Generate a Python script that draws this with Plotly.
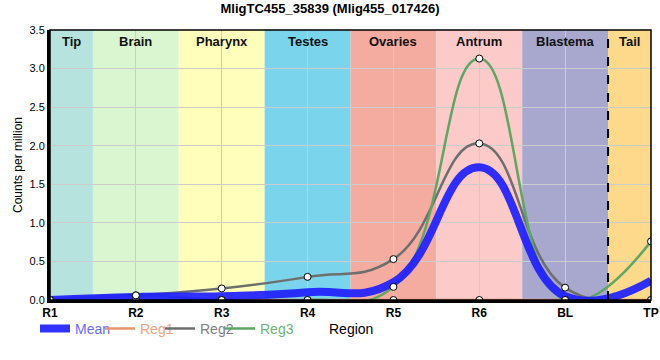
import plotly.graph_objects as go

categories = ["R1", "R2", "R3", "R4", "R5", "R6", "BL", "TP"]
mean = [0.0, 0.04, 0.05, 0.10, 0.23, 1.72, 0.05, 0.25]
reg1 = [0.0, 0.0, 0.0, 0.0, 0.0, 0.0, 0.0, 0.0]
reg2 = [0.0, 0.06, 0.15, 0.30, 0.53, 2.03, 0.16, 0.0]
reg3 = [0.0, 0.06, 0.0, 0.0, 0.17, 3.13, 0.0, 0.76]

regions = ["Tip", "Brain", "Pharynx", "Testes", "Ovaries", "Antrum", "Blastema", "Tail"]
region_bounds = [(0, 0.5), (0.5, 1.5), (1.5, 2.5), (2.5, 3.5), (3.5, 4.5), (4.5, 5.5), (5.5, 6.5), (6.5, 7)]
region_colors = ["#b7e3df", "#daf6d0", "#ffffbb", "#7ad5ec", "#f4aba0", "#fdcaca", "#a8a8ce", "#fdd98c"]

xs = list(range(len(categories)))
SMOOTH = 1.3

fig = go.Figure()

for (x0, x1), col in zip(region_bounds, region_colors):
    fig.add_shape(type="rect", xref="x", yref="paper", x0=x0, x1=x1, y0=0, y1=1,
                  fillcolor=col, line_width=0, layer="below")

for (x0, x1), name in zip(region_bounds, regions):
    fig.add_annotation(x=(x0 + x1) / 2, y=1, xref="x", yref="paper", yanchor="top", yshift=-2,
                       text="<b>%s</b>" % name, showarrow=False,
                       font=dict(size=13, color="#111111"))

series = [
    ("Reg1", reg1, "#e8956a", "#f0a37a", "legend2"),
    ("Reg2", reg2, "#6e6e6e", "#808080", "legend3"),
    ("Reg3", reg3, "#5fa564", "#6fb573", "legend4"),
]

for name, vals, col, tcol, lg in series:
    fig.add_trace(go.Scatter(x=xs, y=vals, mode="lines",
                             line=dict(color=col, width=2.5, shape="spline", smoothing=SMOOTH),
                             name="<span style='color:%s'>%s</span>" % (tcol, name),
                             legend=lg, hoverinfo="skip"))

fig.add_trace(go.Scatter(x=xs, y=mean, mode="lines",
                         line=dict(color="rgba(30,30,255,0.92)", width=8, shape="spline", smoothing=SMOOTH),
                         name="<span style='color:#6a6aff'>Mean</span>", legend="legend"))

for name, vals, col, tcol, lg in series:
    fig.add_trace(go.Scatter(x=xs, y=vals, mode="markers", showlegend=False,
                             marker=dict(size=7, color="white", line=dict(color="black", width=1))))

fig.add_shape(type="line", xref="x", yref="paper", x0=6.5, x1=6.5, y0=0, y1=1,
              line=dict(color="black", width=2, dash="dash"))
fig.add_shape(type="rect", xref="paper", yref="paper", x0=0, x1=1, y0=0, y1=1,
              line=dict(color="black", width=1.5))

fig.add_annotation(x=0.5, xref="paper", y=-0.107, yref="paper", yanchor="middle",
                   text="Region", showarrow=False, font=dict(size=14, color="black"))


def leg(px):
    return dict(orientation="h", x=(px - 50) / 601.0, xanchor="left", y=-0.107, yanchor="middle",
                font=dict(size=14), bgcolor="rgba(0,0,0,0)", borderwidth=0, itemwidth=30)


fig.update_layout(
    width=660, height=360,
    margin=dict(l=50, r=9, t=30, b=60, autoexpand=False),
    paper_bgcolor="white", plot_bgcolor="white",
    font=dict(family="Liberation Sans, Arial, sans-serif", color="black"),
    title=dict(text="<b>MligTC455_35839 (Mlig455_017426)</b>", x=0.5, xanchor="center",
               y=0.988, yanchor="top", font=dict(size=13, color="black")),
    xaxis=dict(range=[0, 7], tickvals=xs, ticktext=["<b>%s</b>" % c for c in categories],
               showgrid=True, gridcolor="#cccccc", gridwidth=1, zeroline=False,
               showline=True, linecolor="black", linewidth=3, ticks="", automargin=False,
               tickfont=dict(size=12, color="black")),
    yaxis=dict(range=[0, 3.5], dtick=0.5, tickformat=".1f",
               showgrid=True, gridcolor="#cccccc", gridwidth=1, zeroline=False,
               showline=True, linecolor="black", linewidth=3, ticks="", automargin=False,
               title=dict(text="Counts per million", font=dict(size=12), standoff=5),
               tickfont=dict(size=11, color="black")),
    legend=leg(35),
    legend2=leg(100),
    legend3=leg(160),
    legend4=leg(220),
    showlegend=True,
)

fig.write_html("out.html", config={"displayModeBar": False},
               post_script="document.body.style.margin='0';")
